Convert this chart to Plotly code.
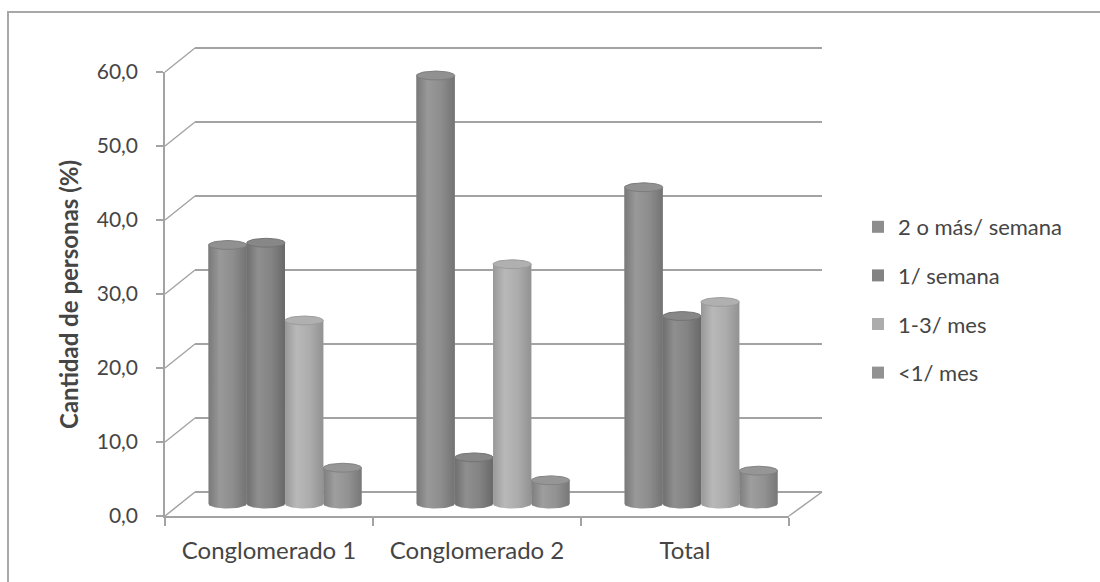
import numpy as np
import plotly.graph_objects as go

# --- data -------------------------------------------------------------
categories = ["Conglomerado 1", "Conglomerado 2", "Total"]
series_names = ["2 o más/ semana", "1/ semana", "1-3/ mes", "<1/ mes"]
freq_2_or_more_week = [35.0, 57.9, 42.8]
freq_1_week = [35.3, 6.3, 25.4]
freq_1_3_month = [24.8, 32.4, 27.3]
freq_less_1_month = [4.9, 3.2, 4.5]
y_ticks = [0, 10, 20, 30, 40, 50, 60]
y_tick_labels = ["0,0", "10,0", "20,0", "30,0", "40,0", "50,0", "60,0"]

series_values = [freq_2_or_more_week, freq_1_week, freq_1_3_month, freq_less_1_month]
gray_levels = [141, 131, 172, 146]

# --- page geometry (pixels) ---------------------------------------------
W, H = 1100, 582
FONT = "Lato"
TEXT = "#454545"
LINE = "#a3a3a3"


def fx(px):
    return px / W


def fy(py):
    return 1 - py / H


UNIT = 7.4            # pixels per percentage point
FRONT_X, FRONT_Y0 = 165, 516   # front axis origin
BACK_X, BACK_Y0 = 195, 492     # back wall origin
BAR_Y0 = 504                   # base of the cylinders
YMAX = 60


def gray(level):
    level = int(max(0, min(255, level)))
    return f"rgb({level},{level},{level})"


fig = go.Figure()

# back wall gridlines (subplot x/y, drawn first so it sits behind)
fig.add_trace(go.Scatter(x=[0.5], y=[30], mode="markers", marker=dict(opacity=0),
                         showlegend=False, hoverinfo="skip", xaxis="x", yaxis="y"))

# bars (subplot x2/y2)
n = len(series_values)
bar_w = 0.184
start = -bar_w * n / 2
ry = 0.6
t = np.linspace(0, np.pi, 30)
s = np.linspace(0, 2 * np.pi, 60)

for i, (name, vals, lvl) in enumerate(zip(series_names, series_values, gray_levels)):
    off = start + i * bar_w
    fig.add_trace(go.Bar(
        x=list(range(len(categories))), y=vals, name=name,
        width=bar_w, offset=off,
        marker=dict(color=gray(lvl), line=dict(width=0)),
        legendgroup=name, xaxis="x2", yaxis="y2",
    ))
    for j, v in enumerate(vals):
        x0 = j + off
        x1 = x0 + bar_w
        cx, rx = (x0 + x1) / 2, bar_w / 2
        # cylinder body: sides, rounded bottom and the front edge of the top
        bx = np.concatenate([[x0, x0], cx - rx * np.cos(t), [x1, x1], cx + rx * np.cos(t)])
        by = np.concatenate([[v, 0], -ry * np.sin(t), [0, v], v - ry * np.sin(t)])
        fig.add_trace(go.Scatter(
            x=bx, y=by, mode="lines", fill="toself", line=dict(width=0),
            fillgradient=dict(type="horizontal", colorscale=[
                [0, gray(lvl - 20)], [0.3, gray(lvl + 12)],
                [0.65, gray(lvl)], [1, gray(lvl - 26)]]),
            showlegend=False, hoverinfo="skip", xaxis="x2", yaxis="y2",
        ))
        # top cap
        fig.add_trace(go.Scatter(
            x=cx + rx * np.cos(s), y=v + ry * np.sin(s), mode="lines",
            fill="toself", fillcolor=gray(lvl + 4),
            line=dict(width=1, color=gray(lvl - 16)),
            showlegend=False, hoverinfo="skip", xaxis="x2", yaxis="y2",
        ))

# front axes (subplot x3/y3)
fig.add_trace(go.Scatter(x=[0], y=[0], mode="markers", marker=dict(opacity=0),
                         showlegend=False, hoverinfo="skip", xaxis="x3", yaxis="y3"))

# depth connectors between front ticks and back wall gridlines
shapes = []
for v in y_ticks:
    shapes.append(dict(type="line", xref="paper", yref="paper",
                       x0=fx(FRONT_X), y0=fy(FRONT_Y0 - UNIT * v),
                       x1=fx(BACK_X), y1=fy(BACK_Y0 - UNIT * v),
                       line=dict(color=LINE, width=1.5), layer="below"))
# right edge of the floor
shapes.append(dict(type="line", xref="paper", yref="paper",
                   x0=fx(789), y0=fy(FRONT_Y0), x1=fx(822), y1=fy(BACK_Y0),
                   line=dict(color=LINE, width=1.5), layer="below"))
# chart frame (left and top edges)
shapes.append(dict(type="path", xref="paper", yref="paper",
                   path=f"M {fx(8)},{fy(582)} L {fx(8)},{fy(12)} L {fx(1100)},{fy(12)}",
                   line=dict(color="#a8a8a8", width=2)))

bar_y_lo, bar_y_hi = -2, 62
pad = 1.0  # keeps the 0 and 60 gridlines inside the back wall range

fig.update_layout(
    width=W, height=H, autosize=False,
    margin=dict(l=0, r=0, t=0, b=0, pad=0, autoexpand=False),
    paper_bgcolor="white", plot_bgcolor="rgba(0,0,0,0)",
    font=dict(family=FONT, color=TEXT),
    barmode="overlay",
    showlegend=True,
    legend=dict(x=fx(858), y=fy(206), xanchor="left", yanchor="top",
                font=dict(family=FONT, size=22, color=TEXT),
                bgcolor="rgba(0,0,0,0)", tracegroupgap=17, itemwidth=30),
    shapes=shapes,
    # back wall
    xaxis=dict(domain=[fx(BACK_X), fx(822)], range=[0, 1], visible=False,
               automargin=False),
    yaxis=dict(domain=[fy(BACK_Y0 + UNIT * pad), fy(BACK_Y0 - UNIT * (YMAX + pad))],
               range=[-pad, YMAX + pad], tickmode="array", tickvals=y_ticks,
               showticklabels=False, ticks="", automargin=False,
               showgrid=True, gridcolor=LINE, gridwidth=1.5,
               zeroline=False, showline=False),
    # bars
    xaxis2=dict(domain=[fx(181), fx(805)], range=[-0.5, 2.5], visible=False,
                anchor="y2", automargin=False),
    yaxis2=dict(domain=[fy(BAR_Y0 - UNIT * bar_y_lo), fy(BAR_Y0 - UNIT * bar_y_hi)],
                range=[bar_y_lo, bar_y_hi], visible=False, anchor="x2",
                automargin=False),
    # front axes
    xaxis3=dict(domain=[fx(FRONT_X), fx(789)], range=[-0.5, 2.5], anchor="y3",
                tickmode="array", tickvals=list(range(len(categories))),
                ticktext=categories, ticks="", showgrid=False, zeroline=False,
                showline=True, linecolor=LINE, linewidth=1.5, automargin=False,
                tickfont=dict(family=FONT, size=24, color=TEXT),
                ticklabelstandoff=12,
                minor=dict(tickmode="array", tickvals=[-0.5, 0.5, 1.5, 2.5],
                           ticks="outside", ticklen=8, tickcolor=LINE,
                           tickwidth=1.5, showgrid=False)),
    yaxis3=dict(domain=[fy(FRONT_Y0), fy(FRONT_Y0 - UNIT * YMAX)], range=[0, YMAX],
                anchor="x3", tickmode="array", tickvals=y_ticks,
                ticktext=y_tick_labels, ticks="outside", ticklen=7,
                tickcolor=LINE, tickwidth=1.5, showgrid=False, zeroline=False,
                showline=True, linecolor=LINE, linewidth=1.5, automargin=False,
                tickfont=dict(family=FONT, size=21, color=TEXT),
                ticklabelstandoff=14),
    annotations=[dict(text="<b>Cantidad de personas (%)</b>", xref="paper",
                      yref="paper", x=fx(68), y=fy(295), textangle=-90,
                      showarrow=False, xanchor="center", yanchor="middle",
                      font=dict(family=FONT, size=24, color=TEXT))],
)

fig.write_html("out.html")
